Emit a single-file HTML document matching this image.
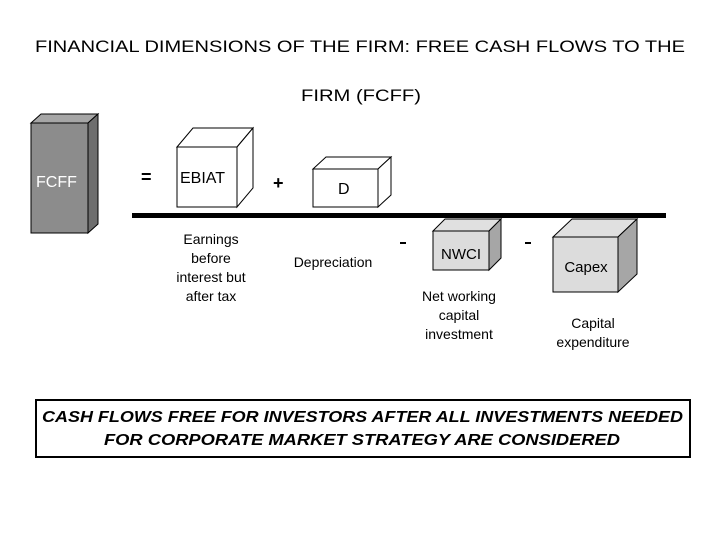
<!DOCTYPE html>
<html><head><meta charset="utf-8"><style>html,body{margin:0;padding:0;background:#fff}svg{display:block}</style></head><body>
<svg width="720" height="540" viewBox="0 0 720 540" xmlns="http://www.w3.org/2000/svg" font-family="Liberation Sans, sans-serif">
<rect width="720" height="540" fill="#fff"/>
<text x="35" y="52" font-size="17" textLength="650" lengthAdjust="spacingAndGlyphs">FINANCIAL DIMENSIONS OF THE FIRM: FREE CASH FLOWS TO THE</text>
<text x="301" y="101" font-size="17" textLength="120" lengthAdjust="spacingAndGlyphs">FIRM (FCFF)</text>
<!-- FCFF -->
<g stroke="#000" stroke-width="1">
<polygon points="31,123 41,114 98,114 88,123" fill="#a6a6a6"/>
<polygon points="88,123 98,114 98,224 88,233" fill="#6e6e6e"/>
<rect x="31" y="123" width="57" height="110" fill="#8c8c8c"/>
</g>
<text x="36" y="187" font-size="16" fill="#fff">FCFF</text>
<text x="141" y="183" font-size="18" font-weight="bold">=</text>
<!-- EBIAT -->
<g stroke="#000" stroke-width="1" fill="#fff">
<polygon points="177,147 193,128 253,128 237,147"/>
<polygon points="237,147 253,128 253,188 237,207"/>
<rect x="177" y="147" width="60" height="60"/>
</g>
<text x="180" y="183" font-size="16">EBIAT</text>
<text x="273" y="189" font-size="18" font-weight="bold">+</text>
<!-- D -->
<g stroke="#000" stroke-width="1" fill="#fff">
<polygon points="313,169 326,157 391,157 378,169"/>
<polygon points="378,169 391,157 391,195 378,207"/>
<rect x="313" y="169" width="65" height="38"/>
</g>
<text x="338" y="194" font-size="16">D</text>
<rect x="132" y="213" width="534" height="5" fill="#000"/>
<g font-size="14" text-anchor="middle">
<text x="211" y="244">Earnings</text><text x="211" y="263">before</text><text x="211" y="282">interest but</text><text x="211" y="301">after tax</text>
<text x="333" y="267">Depreciation</text>
<text x="459" y="301">Net working</text><text x="459" y="320">capital</text><text x="459" y="339">investment</text>
<text x="593" y="328">Capital</text><text x="593" y="347">expenditure</text>
</g>
<rect x="400" y="242" width="6" height="2" fill="#000"/>
<rect x="525" y="242" width="6" height="2" fill="#000"/>
<!-- NWCI -->
<g stroke="#000" stroke-width="1">
<polygon points="433,231 445,219 501,219 489,231" fill="#e0e0e0"/>
<polygon points="489,231 501,219 501,258 489,270" fill="#a6a6a6"/>
<rect x="433" y="231" width="56" height="39" fill="#dcdcdc"/>
</g>
<text x="461" y="259" font-size="15" text-anchor="middle">NWCI</text>
<!-- Capex -->
<g stroke="#000" stroke-width="1">
<polygon points="553,237 572,219 637,219 618,237" fill="#e0e0e0"/>
<polygon points="618,237 637,219 637,274 618,292" fill="#a6a6a6"/>
<rect x="553" y="237" width="65" height="55" fill="#dcdcdc"/>
</g>
<text x="586" y="272" font-size="15" text-anchor="middle">Capex</text>
<!-- bottom box -->
<rect x="36" y="400" width="654" height="57" fill="#fff" stroke="#000" stroke-width="2"/>
<g font-size="16" font-weight="bold" font-style="italic">
<text x="42" y="422" textLength="641" lengthAdjust="spacingAndGlyphs">CASH FLOWS FREE FOR INVESTORS AFTER ALL INVESTMENTS NEEDED</text>
<text x="104" y="445" textLength="516" lengthAdjust="spacingAndGlyphs">FOR CORPORATE MARKET STRATEGY ARE CONSIDERED</text>
</g>
</svg>
</body></html>
